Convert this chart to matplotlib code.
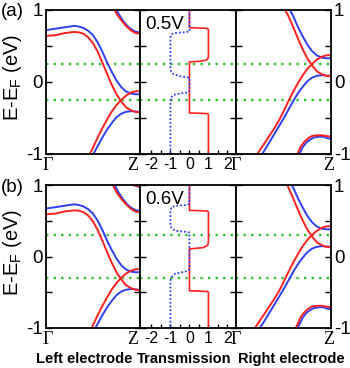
import numpy as np
import matplotlib
matplotlib.use('Agg')
import matplotlib.pyplot as plt

plt.rcParams['font.family'] = ['Liberation Sans', 'DejaVu Sans']
plt.rcParams['axes.unicode_minus'] = False

# bias voltages (V) for panels (a) and (b)
biases = [0.5, 0.6]
panel_tags = ['(a)', '(b)']
bias_labels = ['0.5V', '0.6V']

# electrode bands (k from Gamma=0 to Z=1), energy before the +-V/2 shift
r1_k = [0, .1, .2, .3, .35, .4, .45, .5, .55, .6, .65, .7, .75, .8, .85, .9, .95, 1]
r1_E = [.89, .90, .93, .945, .94, .92, .87, .79, .67, .52, .36, .21, .08, -.02, -.10, -.14, -.165, -.17]
b1_k = [0, .1, .2, .3, .35, .4, .45, .5, .55, .6, .65, .7, .75, .8, .85, .9, .95, 1]
b1_E = [.97, .99, 1.01, 1.03, 1.02, 1.0, .96, .90, .80, .67, .52, .39, .27, .18, .12, .09, .08, .08]
r2_k = [.2, .3, .4, .45, .5, .55, .6, .65, .7, .75, .8, .85, .9, .95, 1]
r2_E = [-1.3, -1.1, -.90, -.79, -.66, -.52, -.39, -.27, -.16, -.07, .0, .06, .10, .12, .125]
b2_k = [.25, .3, .4, .45, .5, .55, .6, .65, .7, .75, .8, .85, .9, .95, 1]
b2_E = [-1.3, -1.2, -.98, -.87, -.76, -.64, -.52, -.41, -.32, -.24, -.19, -.165, -.155, -.16, -.165]
r3_k = [.7, .73, .76, .8, .85, .9, .95, 1]
r3_E = [1.33, 1.25, 1.18, 1.11, 1.03, .97, .93, .92]
b3_k = [.72, .75, .78, .82, .87, .92, .96, 1]
b3_E = [1.33, 1.25, 1.18, 1.10, 1.02, .97, .945, .94]
r4_k = [.88, .92, .96, 1]
r4_E = [1.36, 1.30, 1.29, 1.285]
b4_k = [.9, .94, .97, 1]
b4_E = [1.35, 1.30, 1.28, 1.27]
r5_k = [.6, .64, .68, .72, .76, .8, .85, .9, .95, 1]
r5_E = [-1.4, -1.27, -1.15, -1.08, -1.03, -1.0, -.99, -.99, -1.0, -1.01]
b5_k = [.62, .66, .70, .74, .78, .82, .87, .92, .96, 1]
b5_E = [-1.4, -1.27, -1.16, -1.09, -1.05, -1.02, -1.01, -1.01, -1.03, -1.04]

# transmission (spin up > 0, spin down < 0)
t_up_05 = [0, 0, 0.5, 0.9, 1.0, 1.0, 0.98, 0.9, 0.6, 0.2, 0, 0, 0.6, 0.95, 1.0, 1.0]
e_up_05 = [1.0, 0.755, 0.75, 0.745, 0.73, 0.38, 0.33, 0.305, 0.29, 0.282, 0.28, -0.43, -0.435, -0.44, -0.45, -1.0]
t_dn_05 = [0, 0, -0.3, -0.8, -0.95, -1.0, -1.0, -0.97, -0.85, -0.5, -0.1, 0, 0, -0.1, -0.5, -0.85, -0.97, -1.0, -1.0]
e_dn_05 = [1.0, 0.70, 0.69, 0.68, 0.66, 0.62, 0.19, 0.15, 0.11, 0.08, 0.065, 0.06, -0.13, -0.145, -0.16, -0.18, -0.22, -0.27, -1.0]
t_up_06 = [0, 0, 0.6, 0.95, 1.0, 1.0, 0.97, 0.75, 0.2, 0, 0, 0.6, 0.95, 1.0, 1.0]
e_up_06 = [1.0, 0.645, 0.64, 0.635, 0.62, 0.22, 0.16, 0.125, 0.11, 0.105, -0.48, -0.485, -0.49, -0.50, -1.0]
t_dn_06 = [0, 0, -0.2, -0.7, -0.95, -1.0, -1.0, -0.95, -0.75, -0.2, 0, 0, -0.2, -0.75, -0.95, -1.0, -1.0]
e_dn_06 = [1.0, 0.735, 0.72, 0.71, 0.69, 0.63, 0.44, 0.40, 0.36, 0.345, 0.335, -0.18, -0.21, -0.24, -0.29, -0.35, -1.0]

RED = '#ff2020'
BLUE = '#2f3ff2'
GREEN = '#30c030'

bands = [(b1_k, b1_E, BLUE), (b2_k, b2_E, BLUE), (b3_k, b3_E, BLUE), (b4_k, b4_E, BLUE), (b5_k, b5_E, BLUE),
         (r1_k, r1_E, RED), (r2_k, r2_E, RED), (r3_k, r3_E, RED), (r4_k, r4_E, RED), (r5_k, r5_E, RED)]
trans = [(t_up_05, e_up_05, t_dn_05, e_dn_05), (t_up_06, e_up_06, t_dn_06, e_dn_06)]

W, H = 350, 368
fig = plt.figure(figsize=(W / 100, H / 100), dpi=100)


def box(x0, x1, y0, y1):
    return [x0 / W, 1 - y1 / H, (x1 - x0) / W, (y1 - y0) / H]


def style(ax):
    for s in ax.spines.values():
        s.set_linewidth(1.3)
    ax.set_ylim(-1, 1)
    ax.set_yticks([-1, 0, 1])
    ax.set_yticks([-0.5, 0.5], minor=True)
    ax.tick_params(axis='y', which='both', direction='in', left=True, right=True,
                   length=4, width=1, labelleft=False, labelright=False, labelsize=13.5, pad=2)


rows = [(10, 154), (185, 328)]
for i, (top, bot) in enumerate(rows):
    V = biases[i]
    axL = fig.add_axes(box(46, 140, top, bot))
    axM = fig.add_axes(box(140, 236, top, bot))
    axR = fig.add_axes(box(236, 331, top, bot))
    for ax in (axL, axM, axR):
        style(ax)
        ax.axhline(V / 2, color=GREEN, lw=1.7, ls=(0, (1, 2.2)))
        ax.axhline(-V / 2, color=GREEN, lw=1.7, ls=(0, (1, 2.2)))

    # electrodes: left shifted down by V/2, right shifted up by V/2
    for k, E, c in bands:
        axL.plot(k, np.array(E) - V / 2, color=c, lw=1.4)
        axR.plot(k, np.array(E) + V / 2, color=c, lw=1.4)
    for ax, gpos in ((axL, [0.02, 0.925]), (axR, [0.0, 0.98])):
        ax.set_xlim(0, 1)
        ax.set_xticks(gpos)
        ax.set_xticklabels(['\u0393', 'Z'], family=['Liberation Serif', 'DejaVu Serif'], fontsize=13)
        ax.tick_params(axis='x', length=0, pad=2)
    axL.tick_params(axis='y', labelleft=True)
    axR.tick_params(axis='y', labelright=True)

    tu, eu, td, ed = trans[i]
    axM.plot(tu, eu, color=RED, lw=1.2)
    axM.plot(td, ed, color=BLUE, lw=1.3, ls=(0, (1, 1.1)))
    axM.set_xlim(-2.6, 2.45)
    axM.set_xticks([-2, -1, 0, 1, 2])
    axM.set_xticks([-1.5, -0.5, 0.5, 1.5], minor=True)
    axM.tick_params(axis='x', which='both', direction='in', length=3, width=1, labelsize=11.5, pad=2.5)
    axM.text(0.05, 0.955, bias_labels[i], transform=axM.transAxes, ha='left', va='top', fontsize=13.5)

    fig.text(0.5 / W, 1 - (top + 2) / H, panel_tags[i], fontsize=13.5, ha='left', va='center')
    ymid = top + (bot - top) * 0.47
    fig.text(13 / W, 1 - ymid / H, 'E-E$_{\\mathregular{F}}$ (eV)', rotation=90,
             ha='center', va='center', fontsize=14.5)

fig.text(84 / W, 1 - 363 / H, 'Left electrode', ha='center', va='baseline', fontsize=10.5, weight='bold')
fig.text(184 / W, 1 - 363 / H, 'Transmission', ha='center', va='baseline', fontsize=10.5, weight='bold')
fig.text(291 / W, 1 - 363 / H, 'Right electrode', ha='center', va='baseline', fontsize=10.5, weight='bold')

fig.savefig('out.png', dpi=100)
